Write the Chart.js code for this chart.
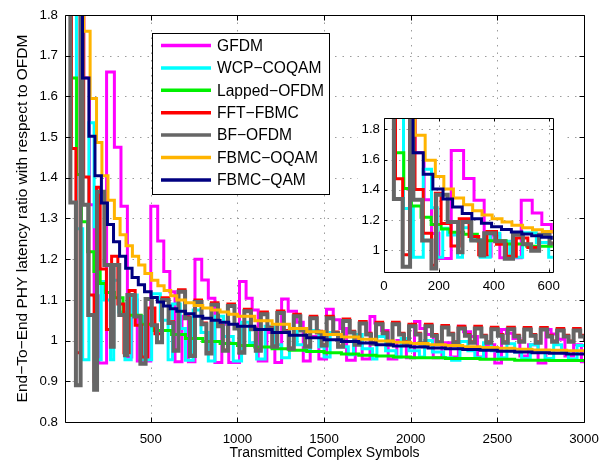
<!DOCTYPE html>
<html>
<head>
<meta charset="utf-8">
<title>PHY latency ratio</title>
<script src="https://cdn.jsdelivr.net/npm/chart.js@4.4.1/dist/chart.umd.min.js"></script>
<style>
  body { margin: 0; background: #fff; }
  #wrap { position: relative; width: 614px; height: 464px; }
  #main { position: absolute; left: 0; top: 0; }
  #inset { position: absolute; left: 358px; top: 106px; background: #fff; }
</style>
</head>
<body>
<div id="wrap">
  <canvas id="main" width="614" height="464"></canvas>
  <canvas id="inset" width="208" height="190"></canvas>
</div>
<script>
// each series is a staircase: X = symbol count where a step starts, Y = latency ratio on that step
const gfdmX = [60, 113, 146, 173, 200, 245, 290, 328, 365, 390, 422, 500, 540, 575, 610, 640, 680, 717,
  755, 794, 832, 870, 910, 950, 1012, 1050, 1085, 1120, 1170, 1216, 1255, 1293, 1341, 1380, 1420, 1470,
  1514, 1553, 1591, 1630, 1680, 1720, 1765, 1793, 1832, 1870, 1920, 1975, 2022, 2053, 2090, 2130, 2180,
  2230, 2275, 2305, 2345, 2385, 2435, 2485, 2524, 2553, 2590, 2630, 2680, 2735, 2780, 2810, 2850, 2890,
  2940, 2985, 3010];
const gfdmY = [2.5, 1.645, 1.334, 1.11, 0.945, 1.66, 1.475, 1.33, 0.96, 1.10, 0.95, 1.33, 1.245, 1.17, 1.12, 0.948, 1.06, 0.948,
  1.20, 1.149, 1.104, 0.946, 1.04, 0.946, 1.145, 1.104, 1.075, 0.95, 1.02, 0.946, 1.102, 1.072, 1.045, 0.95, 1.01, 0.955,
  1.077, 1.051, 1.03, 0.952, 1.005, 0.955, 1.059, 1.043, 1.025, 0.955, 1.0, 0.958, 1.047, 1.03, 1.015, 0.958, 0.995,
  0.96, 1.035, 1.022, 1.01, 0.96, 0.99, 0.945, 1.027, 1.018, 1.005, 0.962, 0.99, 0.945, 1.027, 1.016, 1.003, 0.962,
  0.99, 0.948, 0.948];

const wcpX = [30, 71, 107, 143, 173, 194, 214, 232, 268, 286, 315, 351, 387, 422, 458, 505, 555, 600, 625,
  670, 700, 745, 790, 832, 870, 920, 976, 1024, 1070, 1111, 1160, 1210, 1255, 1300, 1345, 1390, 1420, 1470,
  1500, 1535, 1580, 1640, 1670, 1720, 1780, 1805, 1855, 1915, 1945, 1990, 2050, 2080, 2125, 2190, 2236, 2284,
  2330, 2370, 2420, 2465, 2505, 2555, 2600, 2640, 2690, 2735, 2775, 2825, 2870, 2910, 2960, 3010];
const wcpY = [2.5, 1.275, 0.953, 1.535, 1.28, 0.953, 1.145, 1.10, 0.953, 1.148, 1.07, 0.953, 1.112, 1.059, 0.953, 1.115, 1.05, 0.953, 1.09,
  1.03, 0.952, 1.075, 1.02, 0.95, 1.06, 1.01, 0.95, 1.045, 0.995, 0.955, 1.035, 0.99, 0.958, 1.03, 0.99, 0.975, 1.025, 0.985,
  0.96, 1.02, 0.985, 0.965, 1.015, 0.98, 0.955, 1.01, 0.975, 0.96, 1.005, 0.975, 0.96, 1.0, 0.972, 0.958, 0.952, 0.998,
  0.975, 0.958, 0.995, 0.975, 0.958, 0.992, 0.972, 0.956, 0.99, 0.972, 0.956, 0.99, 0.97, 0.955, 0.988, 0.988];

const lappedX = [20, 42, 72, 100, 135, 172, 208, 240, 290, 340, 445, 520, 620, 700, 800, 900, 1000, 1100,
  1200, 1300, 1400, 1500, 1600, 1700, 1800, 1900, 2000, 2200, 2400, 2600, 2800, 3000];
const lappedY = [2.5, 1.645, 1.408, 1.292, 1.218, 1.17, 1.14, 1.118, 1.105, 1.062, 1.04, 1.025, 1.015, 1.005, 0.998, 0.993, 0.988, 0.984,
  0.98, 0.976, 0.973, 0.97, 0.967, 0.964, 0.962, 0.96, 0.958, 0.956, 0.954, 0.952, 0.951, 0.95];

// BF-OFDM and FFT-FBMC share the same frame grid after the first few frames
const frameX = [565, 603, 631, 660, 698, 726, 755, 793, 821, 850, 888, 916, 945, 983, 1011, 1040, 1078, 1106,
  1135, 1173, 1201, 1230, 1268, 1296, 1325, 1363, 1391, 1420, 1458, 1486, 1515, 1553, 1581,
  1610, 1648, 1676, 1705, 1743, 1771, 1800, 1838, 1866, 1895, 1933, 1961, 1990, 2028, 2056,
  2085, 2123, 2151, 2180, 2218, 2246, 2275, 2313, 2341, 2370, 2408, 2436, 2465, 2503, 2531,
  2560, 2598, 2626, 2655, 2693, 2721, 2750, 2788, 2816, 2845, 2883, 2911, 2940, 2978, 3006];

const fftX = [20, 42, 68, 93, 113, 143, 173, 187, 208, 244, 274, 310, 345, 375, 410, 446, 482, 524, ...frameX];
const fftY = [2.5, 1.472, 0.97, 2.5, 1.402, 1.112, 0.90, 1.377, 1.176, 1.027, 1.207, 1.09, 0.97, 1.123, 1.038, 0.96, 1.08, 1.017,
  1.105, 1.046, 0.977, 1.125, 1.058, 0.964, 1.100, 1.043, 0.970, 1.093, 1.038, 0.977, 1.090, 1.033, 0.972, 1.077, 1.031, 0.977,
  1.070, 1.033, 0.987, 1.073, 1.025, 0.982, 1.065, 1.028, 0.987, 1.060, 1.023, 0.990, 1.060, 1.021, 0.987,
  1.053, 1.023, 0.992, 1.047, 1.018, 0.994, 1.045, 1.021, 0.992, 1.045, 1.018, 0.997, 1.040, 1.018, 0.994,
  1.040, 1.015, 0.997, 1.037, 1.018, 0.997, 1.035, 1.015, 0.997, 1.035, 1.013, 0.997, 1.033, 1.015, 0.997,
  1.033, 1.013, 0.999, 1.032, 1.015, 0.997, 1.032, 1.013, 0.999, 1.030, 1.013, 0.999, 1.030, 1.013, 0.999];

const bfX = [20, 36, 68, 95, 107, 139, 173, 190, 232, 270, 286, 318, 351, 365, 405, 440, 470, 506, 536, ...frameX];
const bfY = [2.5, 1.339, 0.89, 2.5, 1.334, 1.063, 0.879, 1.366, 1.186, 0.985, 1.186, 1.063, 0.964, 1.112, 1.059, 0.943, 1.102, 1.038, 0.996,
  1.100, 1.043, 0.975, 1.120, 1.055, 0.962, 1.095, 1.040, 0.968, 1.088, 1.035, 0.975, 1.085, 1.030, 0.970, 1.072, 1.028, 0.975,
  1.065, 1.030, 0.985, 1.068, 1.022, 0.980, 1.060, 1.025, 0.985, 1.055, 1.020, 0.988, 1.055, 1.018, 0.985,
  1.048, 1.020, 0.990, 1.042, 1.015, 0.992, 1.040, 1.018, 0.990, 1.040, 1.015, 0.995, 1.035, 1.015, 0.992,
  1.035, 1.012, 0.995, 1.032, 1.015, 0.995, 1.030, 1.012, 0.995, 1.030, 1.010, 0.995, 1.028, 1.012, 0.995,
  1.028, 1.010, 0.997, 1.027, 1.012, 0.995, 1.027, 1.010, 0.997, 1.025, 1.010, 0.997, 1.025, 1.010, 0.997];

const oqamX = [60, 113, 150, 187, 218, 253, 290, 323, 357, 394, 430, 466, 505, 541, 577, 615,
  650, 700, 750, 800, 850, 900, 950, 1000, 1100, 1200, 1300, 1400, 1500, 1600, 1700, 1800, 1900, 2000,
  2100, 2200, 2300, 2400, 2500, 2600, 2700, 2800, 2900, 3000];
const oqamY = [2.5, 1.76, 1.595, 1.487, 1.405, 1.345, 1.30, 1.26, 1.233, 1.207, 1.186, 1.165, 1.148, 1.135, 1.123, 1.11,
  1.10, 1.093, 1.086, 1.08, 1.075, 1.07, 1.065, 1.06, 1.049, 1.04, 1.03, 1.022, 1.015, 1.009, 1.003, 0.999, 0.996, 0.993,
  0.99, 0.988, 0.985, 0.983, 0.981, 0.979, 0.977, 0.976, 0.975, 0.974];

const qamX = [60, 106, 143, 178, 215, 250, 285, 320, 355, 392, 428, 464, 502, 538, 574, 612,
  650, 700, 750, 800, 850, 900, 950, 1000, 1100, 1200, 1300, 1400, 1500, 1600, 1700, 1800, 1900, 2000,
  2100, 2200, 2300, 2400, 2500, 2600, 2700, 2800, 2900, 3000];
const qamY = [2.5, 1.645, 1.502, 1.405, 1.338, 1.285, 1.243, 1.207, 1.178, 1.155, 1.137, 1.12, 1.106, 1.095, 1.085, 1.078,
  1.072, 1.066, 1.06, 1.055, 1.05, 1.045, 1.04, 1.035, 1.027, 1.02, 1.013, 1.007, 1.002, 0.998, 0.994, 0.99, 0.987, 0.984,
  0.982, 0.98, 0.978, 0.976, 0.974, 0.972, 0.97, 0.969, 0.967, 0.966];

const labels = ['GFDM', 'WCP\u2212COQAM', 'Lapped\u2212OFDM', 'FFT\u2212FBMC', 'BF\u2212OFDM', 'FBMC\u2212OQAM', 'FBMC\u2212QAM'];

const xTicks = [500, 1000, 1500, 2000, 2500, 3000];
const yTicks = [0.8, 0.9, 1, 1.1, 1.2, 1.3, 1.4, 1.5, 1.6, 1.7, 1.8];
const insetXTicks = [0, 200, 400, 600];
const insetYTicks = [1, 1.2, 1.4, 1.6, 1.8];

const colors = ['#ff00ff', '#00ffff', '#00f000', '#ff0000', '#666666', '#ffb400', '#000080'];
const widths = [3, 3, 3, 3, 4, 3, 3];

const FONT = "'Liberation Sans', Arial, sans-serif";
Chart.defaults.font.family = FONT;
Chart.defaults.color = '#000';

function makeDatasets() {
  const src = [[gfdmX, gfdmY], [wcpX, wcpY], [lappedX, lappedY], [fftX, fftY], [bfX, bfY], [oqamX, oqamY], [qamX, qamY]];
  // chart.js paints dataset 0 last, so reverse to keep FBMC-QAM on top like the legend order
  return src.map((s, i) => ({
    label: labels[i],
    data: s[0].map((x, k) => ({ x: x, y: s[1][k] })),
    borderColor: colors[i],
    borderWidth: widths[i],
    stepped: true,
    pointRadius: 0,
    fill: false,
    clip: 0,
    borderJoinStyle: 'miter',
    borderCapStyle: 'butt'
  })).reverse();
}

// dotted grid under the data, black box with inward ticks over it
const frame = {
  id: 'frame',
  beforeDatasetsDraw(chart) {
    const { ctx, chartArea: a } = chart;
    const sx = chart.scales.x, sy = chart.scales.y;
    ctx.save();
    ctx.strokeStyle = '#9c9c9c';
    ctx.lineWidth = 1;
    ctx.setLineDash([1.5, 6]);
    ctx.beginPath();
    sx.ticks.forEach(t => {
      const px = Math.round(sx.getPixelForValue(t.value)) + 0.5;
      if (px > a.left + 2 && px < a.right - 2) { ctx.moveTo(px, a.top); ctx.lineTo(px, a.bottom); }
    });
    sy.ticks.forEach(t => {
      const py = Math.round(sy.getPixelForValue(t.value)) + 0.5;
      if (py > a.top + 2 && py < a.bottom - 2) { ctx.moveTo(a.left, py); ctx.lineTo(a.right, py); }
    });
    ctx.stroke();
    ctx.restore();
  },
  afterDatasetsDraw(chart, args, opts) {
    const { ctx, chartArea: a } = chart;
    const sx = chart.scales.x, sy = chart.scales.y;
    const len = opts.tick || 5;
    const l = Math.round(a.left) + 0.5, r = Math.round(a.right) + 0.5;
    const t = Math.round(a.top) + 0.5, b = Math.round(a.bottom) + 0.5;
    ctx.save();
    ctx.strokeStyle = '#000';
    ctx.lineWidth = 1;
    ctx.setLineDash([]);
    ctx.beginPath();
    ctx.rect(l, t, r - l, b - t);
    sx.ticks.forEach(tk => {
      const px = Math.round(sx.getPixelForValue(tk.value)) + 0.5;
      ctx.moveTo(px, b); ctx.lineTo(px, b - len);
      ctx.moveTo(px, t); ctx.lineTo(px, t + len);
    });
    sy.ticks.forEach(tk => {
      const py = Math.round(sy.getPixelForValue(tk.value)) + 0.5;
      ctx.moveTo(l, py); ctx.lineTo(l + len, py);
      ctx.moveTo(r, py); ctx.lineTo(r - len, py);
    });
    ctx.stroke();
    ctx.restore();
  }
};

// boxed legend inside the upper-left part of the plot
const legendBox = {
  id: 'legendBox',
  afterDraw(chart) {
    const ctx = chart.ctx;
    const bx = 152, by = 33, bw = 177, bh = 161;
    ctx.save();
    ctx.fillStyle = '#fff';
    ctx.fillRect(bx, by, bw, bh);
    ctx.strokeStyle = '#000';
    ctx.lineWidth = 1;
    ctx.strokeRect(bx + 0.5, by + 0.5, bw, bh);
    ctx.font = '15.6px ' + FONT;
    ctx.textBaseline = 'middle';
    ctx.textAlign = 'left';
    labels.forEach((name, i) => {
      const y = by + 12.5 + i * 22.4;
      ctx.strokeStyle = colors[i];
      ctx.lineWidth = 3.5;
      ctx.beginPath();
      ctx.moveTo(bx + 9, y);
      ctx.lineTo(bx + 59, y);
      ctx.stroke();
      ctx.fillStyle = '#000';
      ctx.fillText(name, bx + 65, y + 1);
    });
    ctx.restore();
  }
};

function fmt(v) { return String(v); }

const noGrid = { display: false, drawTicks: false };

new Chart(document.getElementById('main'), {
  type: 'line',
  data: { datasets: makeDatasets() },
  plugins: [frame, legendBox],
  options: {
    responsive: false,
    animation: false,
    events: [],
    layout: { padding: { left: 0, right: 30, top: 13, bottom: 0 } },
    plugins: { legend: { display: false }, tooltip: { enabled: false }, frame: { tick: 5 } },
    scales: {
      x: {
        type: 'linear', min: 5, max: 3000,
        afterBuildTicks: s => { s.ticks = xTicks.map(v => ({ value: v })); },
        afterFit: s => { s.height = 42; },
        grid: noGrid,
        border: { display: false },
        ticks: { font: { size: 13.3 }, color: '#000', padding: 9, maxRotation: 0, autoSkip: false, callback: fmt },
        title: { display: true, text: 'Transmitted Complex Symbols', font: { size: 14 }, color: '#000', padding: { top: 0, bottom: 2 } }
      },
      y: {
        type: 'linear', min: 0.8, max: 1.8,
        afterBuildTicks: s => { s.ticks = yTicks.map(v => ({ value: v })); },
        afterFit: s => { s.width = 65; },
        grid: noGrid,
        border: { display: false },
        ticks: { font: { size: 13.3 }, color: '#000', padding: 7, autoSkip: false, callback: fmt },
        title: { display: true, text: 'End\u2212To\u2212End PHY latency ratio with respect to OFDM', font: { size: 15.5 }, color: '#000', padding: { top: 13, bottom: 0 } }
      }
    }
  }
});

// zoom on the first frames
new Chart(document.getElementById('inset'), {
  type: 'line',
  data: { datasets: makeDatasets() },
  plugins: [frame],
  options: {
    responsive: false,
    animation: false,
    events: [],
    layout: { padding: { left: 0, right: 9, top: 6, bottom: 0 } },
    plugins: { legend: { display: false }, tooltip: { enabled: false }, frame: { tick: 3 } },
    scales: {
      x: {
        type: 'linear', min: 0, max: 615,
        afterBuildTicks: s => { s.ticks = insetXTicks.map(v => ({ value: v })); },
        afterFit: s => { s.height = 24; },
        grid: noGrid,
        border: { display: false },
        ticks: { font: { size: 13.3 }, color: '#000', padding: 6, maxRotation: 0, autoSkip: false, callback: fmt }
      },
      y: {
        type: 'linear', min: 0.855, max: 1.875,
        afterBuildTicks: s => { s.ticks = insetYTicks.map(v => ({ value: v })); },
        afterFit: s => { s.width = 26; },
        grid: noGrid,
        border: { display: false },
        ticks: { font: { size: 13.3 }, color: '#000', padding: 4, autoSkip: false, callback: fmt }
      }
    }
  }
});
</script>
</body>
</html>
